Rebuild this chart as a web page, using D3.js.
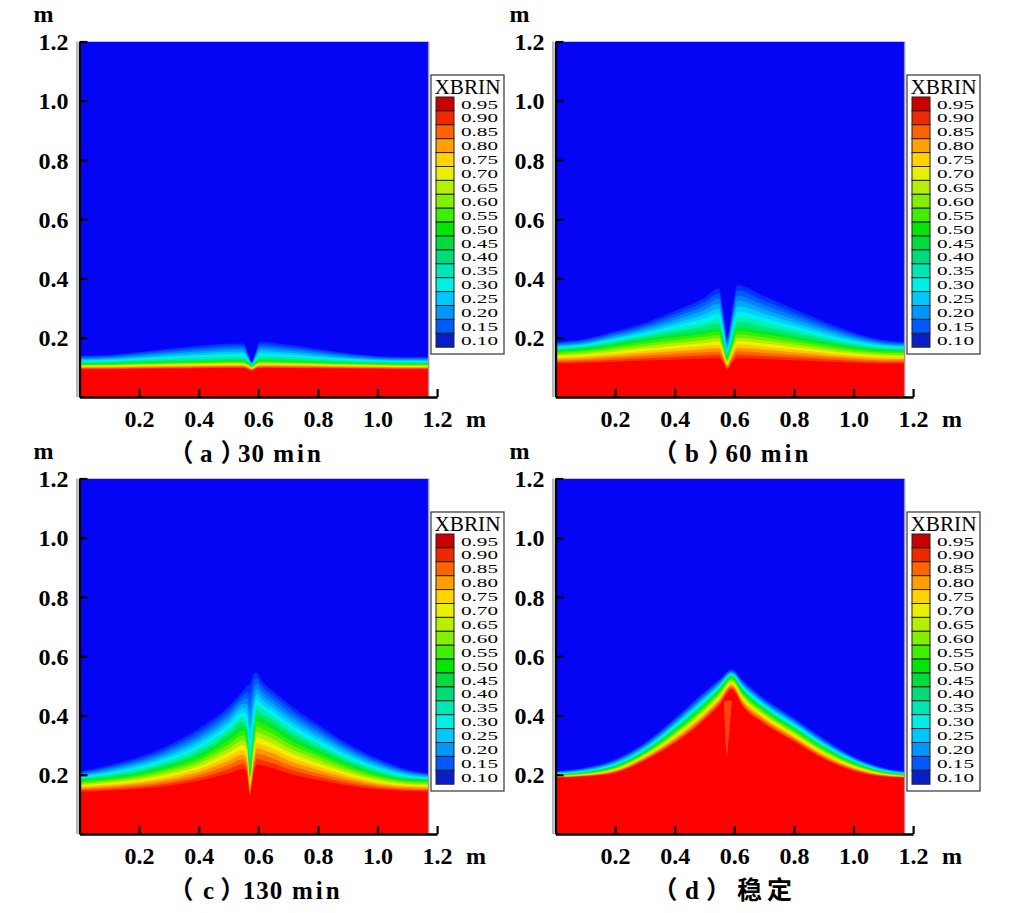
<!DOCTYPE html>
<html>
<head>
<meta charset="utf-8">
<script src="https://cdn.jsdelivr.net/npm/d3@7"></script>
<style>
  html, body { margin: 0; padding: 0; background: #ffffff; }
  svg { display: block; }
  .ser { font-family: "Liberation Serif", "DejaVu Serif", serif; }
  .cap { font-family: "Liberation Serif", "Noto Sans CJK SC", "Noto Sans CJK JP", serif; }
  .cjk { font-family: "Noto Sans CJK SC", "Noto Sans CJK JP", sans-serif; }
</style>
</head>
<body>
<script>
// ---------------- DATA ----------------
const levels = [0.10, 0.15, 0.20, 0.25, 0.30, 0.35, 0.40, 0.45, 0.50, 0.55, 0.60, 0.65, 0.70, 0.75, 0.80, 0.85, 0.90, 0.95];
const legendLabels = ["0.95","0.90","0.85","0.80","0.75","0.70","0.65","0.60","0.55","0.50","0.45","0.40","0.35","0.30","0.25","0.20","0.15","0.10"];
const xTicks = [0.2, 0.4, 0.6, 0.8, 1.0, 1.2];
const yTicks = [0.2, 0.4, 0.6, 0.8, 1.0, 1.2];
const captions = ["（a）30 min", "（b）60 min", "（c）130 min", "（d）稳定"];
const modelWidth = 1.17;   // right edge of the computed domain (m)

// Panel (a) 30 min : heights (m) of the 0.10, 0.50 and 0.95 contours
const xsA  = [0, 0.1, 0.2, 0.3, 0.4, 0.5, 0.55, 0.565, 0.578, 0.59, 0.605, 0.7, 0.8, 0.9, 1.0, 1.1, 1.17];
const topA = [0.139, 0.142, 0.152, 0.163, 0.173, 0.180, 0.181, 0.150, 0.118, 0.150, 0.186, 0.176, 0.162, 0.148, 0.138, 0.135, 0.135];
const midA = [0.113, 0.114, 0.117, 0.119, 0.121, 0.123, 0.123, 0.115, 0.106, 0.115, 0.124, 0.122, 0.119, 0.116, 0.114, 0.113, 0.113];
const botA = [0.094, 0.094, 0.095, 0.096, 0.097, 0.098, 0.098, 0.094, 0.089, 0.094, 0.098, 0.098, 0.097, 0.096, 0.095, 0.094, 0.094];

// Panel (b) 60 min
const xsB  = [0, 0.1, 0.2, 0.3, 0.4, 0.5, 0.548, 0.563, 0.576, 0.592, 0.61, 0.7, 0.8, 0.9, 1.0, 1.1, 1.17];
const topB = [0.186, 0.196, 0.222, 0.250, 0.290, 0.335, 0.366, 0.290, 0.203, 0.290, 0.377, 0.340, 0.297, 0.255, 0.218, 0.192, 0.186];
const midB = [0.158, 0.165, 0.180, 0.196, 0.210, 0.224, 0.232, 0.185, 0.134, 0.185, 0.235, 0.222, 0.205, 0.186, 0.170, 0.160, 0.158];
const botB = [0.113, 0.116, 0.119, 0.123, 0.127, 0.130, 0.131, 0.115, 0.093, 0.115, 0.131, 0.128, 0.124, 0.120, 0.116, 0.113, 0.113];

// Panel (c) 130 min
const xsC  = [0, 0.1, 0.2, 0.3, 0.4, 0.5, 0.55, 0.562, 0.572, 0.584, 0.595, 0.61, 0.65, 0.7, 0.8, 0.9, 1.0, 1.1, 1.17];
const topC = [0.210, 0.232, 0.260, 0.300, 0.355, 0.430, 0.485, 0.500, 0.505, 0.540, 0.545, 0.520, 0.482, 0.440, 0.370, 0.305, 0.255, 0.218, 0.205];
const midC = [0.182, 0.192, 0.207, 0.232, 0.268, 0.330, 0.365, 0.340, 0.210, 0.330, 0.400, 0.392, 0.370, 0.335, 0.285, 0.240, 0.205, 0.185, 0.182];
const botC = [0.143, 0.147, 0.153, 0.163, 0.180, 0.205, 0.220, 0.200, 0.130, 0.200, 0.235, 0.232, 0.222, 0.205, 0.182, 0.164, 0.151, 0.145, 0.143];

// Panel (d) steady state
const xsD  = [0, 0.1, 0.2, 0.3, 0.4, 0.5, 0.55, 0.591, 0.63, 0.7, 0.8, 0.9, 1.0, 1.1, 1.17];
const topD = [0.212, 0.224, 0.252, 0.308, 0.390, 0.480, 0.522, 0.555, 0.517, 0.458, 0.392, 0.322, 0.262, 0.224, 0.212];
const midD = [0.200, 0.207, 0.228, 0.278, 0.352, 0.438, 0.488, 0.532, 0.482, 0.422, 0.357, 0.292, 0.241, 0.209, 0.200];
const botD = [0.190, 0.194, 0.206, 0.248, 0.306, 0.385, 0.435, 0.488, 0.428, 0.372, 0.312, 0.253, 0.213, 0.194, 0.190];
// thin orange streak inside the red core of panel (d)
const streakY  = [0.265, 0.33, 0.40, 0.45];
const streakXl = [0.573, 0.570, 0.567, 0.565];
const streakXr = [0.576, 0.582, 0.588, 0.592];

// ---------------- STYLE ----------------
const legendColors = ["#c80000","#f02800","#ff6400","#ffa000","#ffd200","#e8f000","#b4f000","#82f000","#3cf000",
                      "#00e600","#00dc3c","#00dc78","#00e6b4","#00f0e6","#00c8ff","#0096ff","#005aff","#0a1ec8"];
const fieldColors = ["#0032ff","#0058ff","#0080ff","#00a8ff","#00d0ff","#00f0f0","#00f0b0","#00e870","#00e830",
                     "#30f000","#70f000","#b0f000","#f0f000","#ffc800","#ff9600","#ff6400","#ff3000","#fe0000"];
const fieldBlue = "#0505f5";
const streakColor = "#ff4a10";

const W = 1013, H = 913;

// layout per panel (caption start offset and per-character spacing)
const panels = [
  {x0: 79.5,  y0: 397, xs: xsA, top: topA, mid: midA, bot: botA, capX: 89, capDx: [0, 6.5, 8, -7.5, 1, 1, 2, 3, 3]},
  {x0: 555.5, y0: 397, xs: xsB, top: topB, mid: midB, bot: botB, capX: 97, capDx: [0, 7.5, 9, -7.5, 1, 1, 2, 3, 3]},
  {x0: 79.5,  y0: 834, xs: xsC, top: topC, mid: midC, bot: botC, capX: 89, capDx: [0, 9.5, 6, -2.5, 1, 1, 1.5, 2, 3, 3]},
  {x0: 555.5, y0: 834, xs: xsD, top: topD, mid: midD, bot: botD, capX: 97, capDx: [0, 7.5, 7], cjkDx: [6, 5], streak: true}
];

const svg = d3.select("body").append("svg")
  .attr("width", W).attr("height", H)
  .attr("viewBox", `0 0 ${W} ${H}`);
svg.append("rect").attr("width", W).attr("height", H).attr("fill", "#fff");

function levelHeight(v, t, m, b) {
  if (v <= 0.5) return t + (m - t) * (v - 0.10) / 0.40;
  return m + (b - m) * (v - 0.50) / 0.45;
}

panels.forEach((p, pi) => {
  const x = d3.scaleLinear().domain([0, 1.2]).range([p.x0, p.x0 + 357.6]);
  const y = d3.scaleLinear().domain([0, 1.2]).range([p.y0, p.y0 - 355.5]);

  const clipId = "clip" + pi;
  svg.append("clipPath").attr("id", clipId).append("rect")
    .attr("x", x(0)).attr("y", y(1.2))
    .attr("width", x(modelWidth) - x(0)).attr("height", y(0) - y(1.2));

  const g = svg.append("g").attr("clip-path", `url(#${clipId})`);
  g.append("rect")
    .attr("x", x(0)).attr("y", y(1.2))
    .attr("width", x(modelWidth) - x(0)).attr("height", y(0) - y(1.2))
    .attr("fill", fieldBlue);

  levels.forEach((v, li) => {
    const hs = p.xs.map((_, j) => levelHeight(v, p.top[j], p.mid[j], p.bot[j]));
    const area = d3.area()
      .x((d, j) => x(p.xs[j]))
      .y0(y(0))
      .y1(d => y(d))
      .curve(d3.curveMonotoneX);
    g.append("path").datum(hs).attr("d", area).attr("fill", fieldColors[li]);
  });

  if (p.streak) {
    const sArea = d3.area()
      .y((d, j) => y(streakY[j]))
      .x0((d, j) => x(streakXl[j]))
      .x1((d, j) => x(streakXr[j]))
      .curve(d3.curveMonotoneY);
    g.append("path").datum(streakY).attr("d", sArea).attr("fill", streakColor).attr("opacity", 0.9);
  }

  // faint frame lines of the plot picture
  svg.append("line").attr("x1", x(modelWidth) + 0.5).attr("x2", x(modelWidth) + 0.5)
    .attr("y1", y(1.2)).attr("y2", y(0)).attr("stroke", "#9a9a9a").attr("stroke-width", 1.5);
  svg.append("line").attr("x1", x(0) - 2.5).attr("x2", x(0) - 2.5)
    .attr("y1", y(1.2)).attr("y2", y(0)).attr("stroke", "#a0a0a0").attr("stroke-width", 1.5);

  // axes
  const yAxis = d3.axisLeft(y).tickValues(yTicks).tickSize(-8).tickSizeOuter(0).tickPadding(11)
    .tickFormat(d3.format(".1f"));
  const ga = svg.append("g").attr("transform", `translate(${x(0)},0)`).call(yAxis);
  const xAxis = d3.axisBottom(x).tickValues(xTicks).tickSize(-8).tickSizeOuter(0).tickPadding(13)
    .tickFormat(d3.format(".1f"));
  const gb = svg.append("g").attr("transform", `translate(0,${y(0)})`).call(xAxis);

  [ga, gb].forEach(gg => {
    gg.attr("font-family", null).attr("font-size", null);
    gg.select(".domain").attr("stroke", "#000").attr("stroke-width", 2.4);
    gg.selectAll(".tick line").attr("stroke", "#000").attr("stroke-width", 2.2);
    gg.selectAll(".tick text")
      .attr("class", "ser")
      .attr("fill", "#000")
      .attr("font-size", 24).attr("font-weight", "bold");
  });
  ga.selectAll(".tick text").attr("dy", "0.34em");
  gb.selectAll(".tick text").attr("y", 30).attr("dy", 0);

  // units
  svg.append("text").attr("class", "ser").attr("x", x(1.2) + 29).attr("y", y(0) + 30)
    .attr("font-size", 24).attr("font-weight", "bold").text("m");
  svg.append("text").attr("class", "ser").attr("x", x(0) - 46).attr("y", y(0) - 375)
    .attr("font-size", 24).attr("font-weight", "bold").text("m");

  // caption
  const capStr = captions[pi];
  const cap = svg.append("text").attr("class", "cap")
    .attr("x", x(0) + p.capX).attr("y", y(0) + 65)
    .attr("font-size", 25).attr("font-weight", "bold");
  if (p.cjkDx) {
    const head = capStr.slice(0, 3), tail = capStr.slice(3);
    cap.append("tspan").attr("dx", p.capDx.join(" ")).text(head);
    cap.append("tspan").attr("class", "cjk").attr("font-size", 25)
      .attr("dx", p.cjkDx.join(" ")).text(tail);
  } else {
    cap.attr("dx", p.capDx.join(" ")).text(capStr);
  }

  // legend
  const lx = p.x0 + 351.5, ly = p.y0 - 322;
  const lg = svg.append("g");
  lg.append("rect").attr("x", lx).attr("y", ly).attr("width", 73).attr("height", 279)
    .attr("fill", "#fff").attr("stroke", "#333").attr("stroke-width", 1.2);
  lg.append("text").attr("class", "ser").attr("x", lx + 36.5).attr("y", ly + 19).attr("text-anchor", "middle")
    .attr("font-size", 20).attr("textLength", 66).attr("lengthAdjust", "spacingAndGlyphs").text("XBRIN");
  const sh = 13.9;
  const ls = d3.scaleBand().domain(legendLabels).range([ly + 22, ly + 22 + sh * legendLabels.length]);
  legendLabels.forEach((lab, i) => {
    lg.append("rect").attr("x", lx + 5).attr("y", ls(lab)).attr("width", 18).attr("height", ls.bandwidth())
      .attr("fill", legendColors[i]).attr("stroke", "#222").attr("stroke-width", 1);
    lg.append("text").attr("class", "ser").attr("x", lx + 30).attr("y", ls(lab) + ls.bandwidth() / 2).attr("dy", "0.35em")
      .attr("font-size", 13).attr("textLength", 37).attr("lengthAdjust", "spacingAndGlyphs").text(lab);
  });
});
</script>
</body>
</html>
